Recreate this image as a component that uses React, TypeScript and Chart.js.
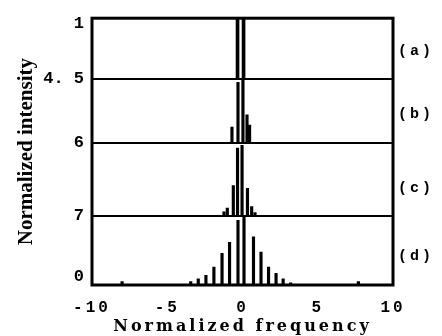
import React, { useEffect, useRef } from "react";
import { Chart, registerables } from "chart.js";

Chart.register(...registerables);

// Panel layout on the shared vertical scale (0 = bottom of (d), 100 = top of (a))
const panelNames = ["(a)", "(b)", "(c)", "(d)"];
const panelBase = [77.2, 53.2, 25.8, 0];
const panelTop = [100, 77.2, 53.2, 25.8];
const panelLabelPos = [87.6, 64.0, 36.3, 10.9];

// Spectral lines per panel: normalized frequency and relative intensity within the panel
const freqA = [-0.33, 0.07];
const intA = [1.0, 1.0];

const freqB = [-0.7, -0.3, 0.03, 0.3, 0.47];
const intB = [0.25, 0.95, 1.0, 0.44, 0.28];

const freqC = [-1.23, -1.01, -0.61, -0.33, -0.03, 0.33, 0.61, 0.83];
const intC = [0.06, 0.11, 0.42, 0.93, 0.97, 0.38, 0.13, 0.05];

const freqD = [-8.0, -3.44, -2.94, -2.43, -1.9, -1.36, -0.86, -0.3, 0.1, 0.73, 1.23, 1.73, 2.23, 2.7, 3.2, 7.7];
const intD = [0.05, 0.05, 0.09, 0.14, 0.26, 0.46, 0.62, 0.94, 1.0, 0.7, 0.48, 0.26, 0.17, 0.09, 0.03, 0.05];

const xTicks = [-10, -5, 0, 5, 10];
const yTickPos = [98, 77.2, 53.2, 25.8, 3];
const yTickLabels = ["1", "4. 5", "6", "7", "0"];
const dividerPos = [77.2, 53.2, 25.8];

const panelFreqs = [freqA, freqB, freqC, freqD];
const panelInts = [intA, intB, intC, intD];

export default function App() {
  const ref = useRef<HTMLCanvasElement | null>(null);

  useEffect(() => {
    if (!ref.current) return;
    const datasets = panelFreqs.map((fs, p) => ({
      label: panelNames[p],
      data: fs.map((f, i) => ({
        x: f,
        y: [panelBase[p], panelBase[p] + panelInts[p][i] * (panelTop[p] - panelBase[p])],
      })),
      backgroundColor: "#000",
      borderWidth: 0,
      barThickness: p === 0 ? 3 : 2.5,
      grouped: false,
    }));

    // typewriter-like spacing for the x axis and panel labels
    const spacingPlugin = {
      id: "spacing",
      beforeDraw(chart: any) {
        chart.ctx.letterSpacing = "3px";
      },
      beforeDatasetsDraw(chart: any) {
        chart.ctx.letterSpacing = "0px";
      },
    };

    const framePlugin = {
      id: "frame",
      afterDraw(chart: any) {
        const { ctx, chartArea } = chart;
        ctx.save();
        ctx.strokeStyle = "#000";
        ctx.lineWidth = 3;
        ctx.strokeRect(chartArea.left, chartArea.top, chartArea.right - chartArea.left, chartArea.bottom - chartArea.top);
        ctx.restore();
      },
    };

    const chart = new Chart(ref.current, {
      type: "bar",
      data: { datasets: datasets as any },
      plugins: [spacingPlugin, framePlugin],
      options: {
        animation: false,
        responsive: false,
        layout: { padding: { top: 18, left: 0, right: 0, bottom: 0 } },
        plugins: { legend: { display: false }, tooltip: { enabled: false } },
        scales: {
          x: {
            type: "linear",
            min: -10,
            max: 10,
            offset: false,
            grid: { display: false },
            border: { display: false },
            afterBuildTicks: (s: any) => {
              s.ticks = xTicks.map((v) => ({ value: v }));
            },
            ticks: {
              color: "#000",
              autoSkip: false,
              maxRotation: 0,
              padding: 5,
              font: { family: "Liberation Mono", size: 16, weight: "bold" },
              callback: (v: any) => String(v),
            },
            title: {
              display: true,
              text: "Normalized frequency",
              color: "#000",
              font: { family: "DejaVu Serif", size: 16, weight: "bold", lineHeight: 1 },
              padding: { top: 0, bottom: 1 },
            },
            afterFit: (s: any) => {
              s.height = 51;
            },
          },
          y: {
            position: "left",
            min: 0,
            max: 100,
            grid: {
              z: 1,
              drawTicks: false,
              lineWidth: 2,
              color: (c: any) => (c.tick && dividerPos.includes(c.tick.value) ? "#000" : "rgba(0,0,0,0)"),
            },
            border: { display: false },
            afterBuildTicks: (s: any) => {
              s.ticks = yTickPos.map((v) => ({ value: v }));
            },
            ticks: {
              z: 1,
              color: "#000",
              autoSkip: false,
              padding: 8,
              font: { family: "Liberation Mono", size: 17, weight: "bold" },
              callback: (_v: any, i: number) => yTickLabels[i],
            },
            title: {
              display: true,
              text: "Normalized intensity",
              color: "#000",
              font: { family: "Liberation Serif", size: 21, weight: "bold", lineHeight: 1.2 },
              padding: { top: 14, bottom: 0 },
            },
            afterFit: (s: any) => {
              s.width = 92;
            },
          },
          y1: {
            position: "right",
            min: 0,
            max: 100,
            grid: { display: false, drawTicks: false },
            border: { display: false },
            afterBuildTicks: (s: any) => {
              s.ticks = panelLabelPos.map((v) => ({ value: v }));
            },
            ticks: {
              color: "#000",
              autoSkip: false,
              padding: 5,
              font: { family: "Liberation Mono", size: 15, weight: "bold" },
              callback: (_v: any, i: number) => panelNames[i],
            },
            afterFit: (s: any) => {
              s.width = 49;
            },
          },
        },
      } as any,
    });
    return () => chart.destroy();
  }, []);

  return (
    <div style={{ position: "absolute", left: 0, top: 0, width: 442, height: 336, background: "#fff" }}>
      <canvas ref={ref} width={442} height={336} />
    </div>
  );
}
